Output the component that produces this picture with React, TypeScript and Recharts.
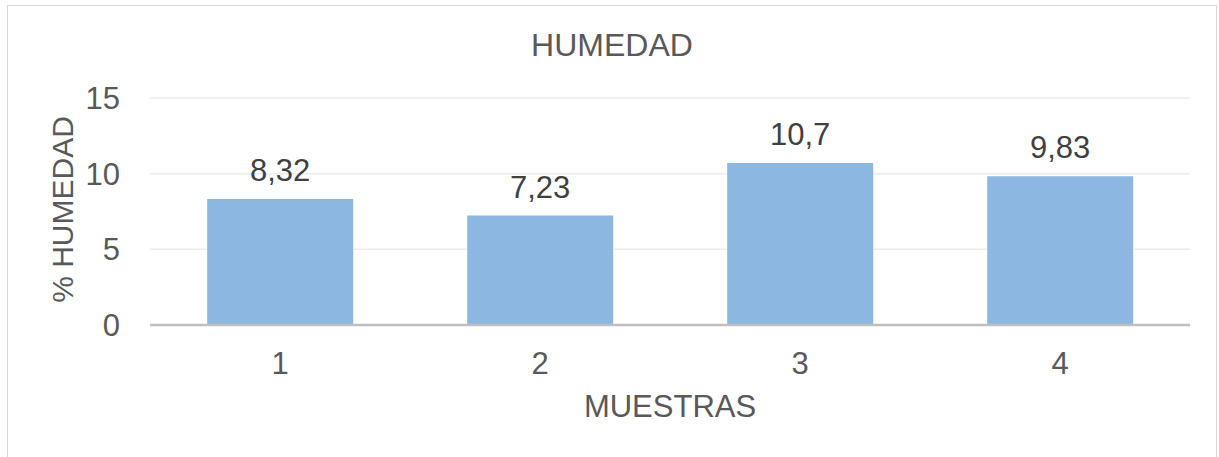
import { Bar, BarChart, CartesianGrid, LabelList, XAxis, YAxis } from 'recharts'

const MUESTRAS = ['1', '2', '3', '4']
const HUMEDAD = [8.32, 7.23, 10.7, 9.83]
const Y_TICKS = [0, 5, 10, 15]

const data = MUESTRAS.map((m, i) => ({ muestra: m, humedad: HUMEDAD[i] }))

const FONT = '"Liberation Sans", Arial, sans-serif'
const TEXT = '#595959'

export default function App() {
  return (
    <div style={{ position: 'absolute', left: 0, top: 0, width: 1219, height: 457, background: '#fff', overflow: 'hidden', fontFamily: FONT }}>
      <div
        style={{
          position: 'absolute',
          left: 7,
          top: 5,
          width: 1210,
          height: 470,
          border: '1px solid #d9d9d9',
          boxSizing: 'border-box',
        }}
      />
      <BarChart
        width={1219}
        height={457}
        data={data}
        margin={{ top: 98, right: 29, left: 0, bottom: 32 }}
        barCategoryGap="22%"
        style={{ position: 'absolute', left: 0, top: 0 }}
      >
        <CartesianGrid stroke="#ececec" strokeWidth={1.5} vertical={false} />
        <XAxis
          dataKey="muestra"
          height={100}
          axisLine={{ stroke: '#bfbfbf', strokeWidth: 2.5 }}
          tickLine={false}
          tickSize={0}
          tickMargin={27}
          tick={{ fill: TEXT, fontSize: 31, fontFamily: FONT }}
          label={{ value: 'MUESTRAS', position: 'insideBottom', offset: 8, fill: TEXT, fontSize: 31, fontFamily: FONT }}
        />
        <YAxis
          width={150}
          domain={[0, 15]}
          ticks={Y_TICKS}
          axisLine={false}
          tickLine={false}
          tickSize={0}
          tickMargin={30}
          tick={{ fill: TEXT, fontSize: 31, fontFamily: FONT }}
          label={({ viewBox }: any) => {
            const cy = viewBox.y + viewBox.height / 2 - 2
            return (
              <text
                x={73}
                y={cy}
                transform={`rotate(-90, 73, ${cy})`}
                textAnchor="middle"
                fill={TEXT}
                fontSize={30}
                fontFamily={FONT}
              >
                % HUMEDAD
              </text>
            )
          }}
        />
        <Bar dataKey="humedad" fill="#8cb7e0" isAnimationActive={false}>
          <LabelList
            dataKey="humedad"
            position="top"
            offset={18}
            fill="#404040"
            fontSize={31}
            fontFamily={FONT}
            formatter={(v: any) => String(v).replace('.', ',')}
          />
        </Bar>
      </BarChart>
      <svg width={1219} height={457} style={{ position: 'absolute', left: 0, top: 0, pointerEvents: 'none' }}>
        <text x={612} y={56} textAnchor="middle" fill={TEXT} fontSize={32} fontFamily={FONT}>
          HUMEDAD
        </text>
      </svg>
    </div>
  )
}
